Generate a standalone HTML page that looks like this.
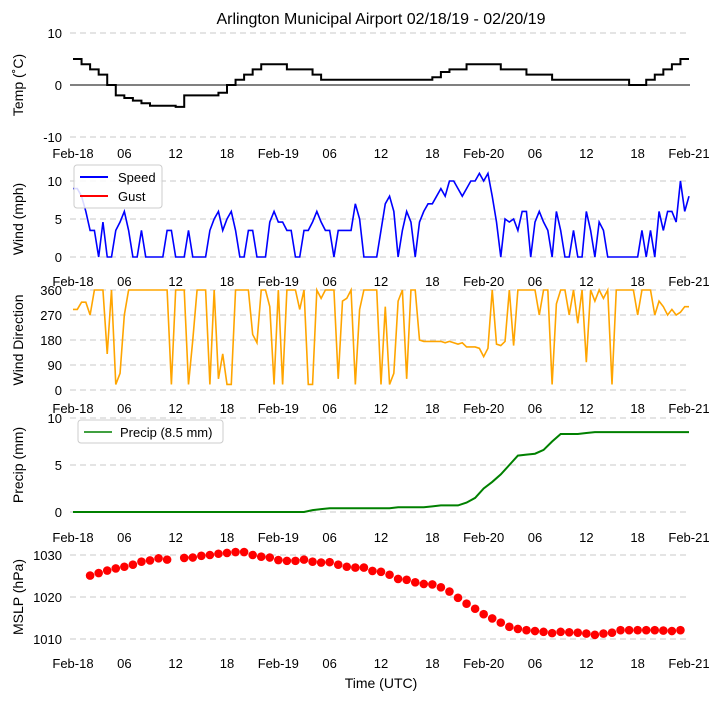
<!DOCTYPE html>
<html><head><meta charset="utf-8"><style>
body{margin:0;background:#fff;width:722px;height:700px;overflow:hidden}
svg{font-family:"Liberation Sans",sans-serif}
</style></head><body>
<svg id="c" width="722" height="700" xmlns="http://www.w3.org/2000/svg">
<text x="381" y="24" font-size="16" text-anchor="middle">Arlington Municipal Airport 02/18/19 - 02/20/19</text>
<text x="381" y="688" font-size="14" text-anchor="middle">Time (UTC)</text>
</svg>
<script>
const tickLabels=["Feb-18","06","12","18","Feb-19","06","12","18","Feb-20","06","12","18","Feb-21"];
const tempVals=[5,4,3,2,0,-2,-2.5,-3,-3.5,-4,-4,-4,-4.2,-2,-2,-2,-2,-1.5,0,1,2,3,4,4,4,3,3,3,2,1,1,1,1,1,1,1,1,1,1,1,1,1,1.5,2.5,3,3,4,4,4,4,3,3,3,2,2,2,1,1,1,1,1,1,1,1,1,0,0,1,2,3,4,5,5];
const speedVals=[9,9,8,6,3.5,3.5,0,4.6,0,0,3.5,4.6,6,3.5,0,0,3.5,0,0,0,0,0,3.5,3.5,0,0,0,3.5,0,0,0,0,3.5,5,6,3.5,5,6,3.5,0,0,3.5,3.5,0,0,0,4.6,6,4.6,4.6,3.5,3.5,0,0,3.5,3.5,4.6,6,4.6,3.5,3.5,0,3.5,3.5,3.5,3.5,7,5,0,0,0,0,3.5,7,8,6,0,3.5,6,4.6,0,4.6,6,7,7,8,9,8,10,10,9,8,9,10,10,11,10,11,8,4.6,0,5,4.6,5,3.5,6,6,0,4.6,6,4.6,3.5,0,6,3.5,0,0,3.5,0,0,6,3.5,0,4.6,3.5,0,0,0,0,0,0,0,0,3.5,0,3.5,0,6,3.5,6,6,4.6,10,6,8];
const dirVals=[290,290,316,316,270,360,360,360,130,360,20,60,270,360,360,360,360,360,360,360,360,360,360,20,360,360,360,20,180,360,360,360,20,360,40,130,20,20,360,360,360,360,200,170,360,360,300,20,360,20,360,360,360,290,360,20,20,360,330,360,360,360,40,320,330,360,20,290,360,360,360,360,20,300,20,60,320,360,40,360,360,180,175,175,175,175,175,170,175,170,165,170,155,155,155,150,120,150,360,165,160,175,360,160,360,360,360,360,360,270,360,360,20,310,360,360,270,360,240,360,100,360,320,360,330,360,20,360,360,360,360,360,270,360,360,360,270,320,300,270,290,270,280,300,300];
const precipVals=[0,0,0,0,0,0,0,0,0,0,0,0,0,0,0,0,0,0,0,0,0,0,0,0,0,0,0,0,0.2,0.3,0.4,0.4,0.4,0.4,0.4,0.4,0.4,0.4,0.5,0.5,0.5,0.5,0.6,0.7,0.7,0.7,1,1.5,2.5,3.2,4,5,6,6.1,6.2,6.6,7.5,8.3,8.3,8.3,8.4,8.5,8.5,8.5,8.5,8.5,8.5,8.5,8.5,8.5,8.5,8.5,8.5];
const mslpHours=[2,3,4,5,6,7,8,9,10,11,13,14,15,16,17,18,19,20,21,22,23,24,25,26,27,28,29,30,31,32,33,34,35,36,37,38,39,40,41,42,43,44,45,46,47,48,49,50,51,52,53,54,55,56,57,58,59,60,61,62,63,64,65,66,67,68,69,70,71];
const mslpVals=[1025.1,1025.7,1026.3,1026.8,1027.2,1027.7,1028.4,1028.7,1029.2,1028.9,1029.3,1029.4,1029.8,1030,1030.3,1030.5,1030.7,1030.7,1030,1029.6,1029.4,1028.8,1028.6,1028.6,1028.9,1028.4,1028.2,1028.3,1027.7,1027.2,1027,1027,1026.2,1026,1025.3,1024.3,1024.1,1023.5,1023.1,1023,1022.3,1021.3,1019.8,1018.4,1017.2,1015.9,1014.9,1013.9,1012.9,1012.4,1012.1,1011.9,1011.7,1011.4,1011.7,1011.6,1011.5,1011.3,1011,1011.3,1011.5,1012.1,1012.1,1012.1,1012.1,1012.1,1012,1011.9,1012.1];

const svg=document.getElementById('c');
const NS='http://www.w3.org/2000/svg';
function mk(tag,attrs,parent){const e=document.createElementNS(NS,tag);for(const k in attrs)e.setAttribute(k,attrs[k]);(parent||svg).appendChild(e);return e;}
const X0=73,X1=689;
function xh(h){return X0+h*(X1-X0)/72;}
function yScale(v0,p0,v1,p1){return v=>p0+(v-v0)*(p1-p0)/(v1-v0);}

const panels=[
 {name:'temp',title:'Temp (˚C)',ticks:[-10,0,10],ys:yScale(-10,137,10,33),tickY:158},
 {name:'wind',title:'Wind (mph)',ticks:[0,5,10],ys:yScale(0,257,10,181),tickY:286},
 {name:'dir',title:'Wind Direction',ticks:[0,90,180,270,360],ys:yScale(0,390,360,290),tickY:413},
 {name:'precip',title:'Precip (mm)',ticks:[0,5,10],ys:yScale(0,512,10,418),tickY:542},
 {name:'mslp',title:'MSLP (hPa)',ticks:[1010,1020,1030],ys:yScale(1010,639,1030,555),tickY:668}
];
panels.forEach(p=>{
  const g=mk('g',{});
  
  
  p.ticks.forEach(t=>{
    const y=p.ys(t);
    const gl=mk('line',{x1:70,x2:690,y1:y,y2:y,stroke:'#c8c8c8','stroke-dasharray':'6,4','stroke-width':1},g);
    
    
    const tl=mk('text',{x:62,y:y+5,'font-size':13,'text-anchor':'end'},g);
    tl.textContent=t;
    
    
  });
  tickLabels.forEach((l,i)=>{
    const t=mk('text',{x:xh(i*6),y:p.tickY,'font-size':13,'text-anchor':'middle'},g);
    t.textContent=l;
    
    
  });
  const cy=(p.ys(p.ticks[0])+p.ys(p.ticks[p.ticks.length-1]))/2;
  const yt=mk('text',{x:0,y:0,'font-size':14,'text-anchor':'middle',transform:`translate(23,${cy}) rotate(-90)`},g);
  yt.textContent=p.title;
  
  
});

const zl=mk('line',{x1:70,x2:690,y1:panels[0].ys(0),y2:panels[0].ys(0),stroke:'#000','stroke-width':1});



function stepPath(vals,dt,ys){let d='';vals.forEach((v,i)=>{const x=xh(i*dt),y=ys(v);if(i===0)d='M'+x+' '+y;else d+=' H'+x+' V'+y;});return d;}
function linePath(vals,dt,ys){return vals.map((v,i)=>(i?'L':'M')+xh(i*dt)+' '+ys(v)).join(' ');}

const tp=mk('path',{d:stepPath(tempVals,1,panels[0].ys),fill:'none',stroke:'#000','stroke-width':2});



const sp=mk('path',{d:linePath(speedVals,0.5,panels[1].ys),fill:'none',stroke:'#0000ff','stroke-width':1.6});



const dp=mk('path',{d:linePath(dirVals,0.5,panels[2].ys),fill:'none',stroke:'#ffa500','stroke-width':1.6});



const pp=mk('path',{d:linePath(precipVals,1,panels[3].ys),fill:'none',stroke:'#008000','stroke-width':2});



mslpVals.forEach((v,i)=>{
  const c=mk('circle',{cx:xh(mslpHours[i]),cy:panels[4].ys(v),r:4.3,fill:'#ff0000'});
  
  
});

const lg=mk('g',{});


mk('rect',{x:74,y:165,width:88,height:43,rx:3,fill:'#fff','fill-opacity':0.85,stroke:'#ccc'},lg);
mk('line',{x1:80,x2:108,y1:177,y2:177,stroke:'#0000ff','stroke-width':2},lg);
const l1=mk('text',{x:118,y:182,'font-size':13},lg);l1.textContent='Speed';


mk('line',{x1:80,x2:108,y1:196,y2:196,stroke:'#ff0000','stroke-width':2},lg);
const l2=mk('text',{x:118,y:201,'font-size':13},lg);l2.textContent='Gust';



const lp=mk('g',{});


mk('rect',{x:78,y:420,width:145,height:23,rx:3,fill:'#fff','fill-opacity':0.85,stroke:'#ccc'},lp);
mk('line',{x1:84,x2:112,y1:432,y2:432,stroke:'#008000','stroke-width':1.5},lp);
const l3=mk('text',{x:120,y:437,'font-size':13},lp);l3.textContent='Precip (8.5 mm)';


</script>
</body></html>
